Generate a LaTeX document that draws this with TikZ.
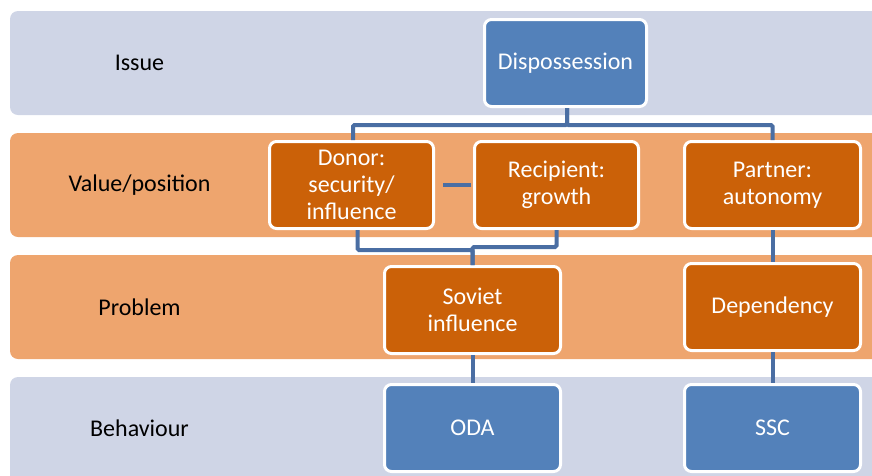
\documentclass[tikz,border=0pt]{standalone}
\usepackage{fontspec}
\setmainfont{Carlito}
\usepackage{tikz}
\usetikzlibrary{calc}
\definecolor{bandblue}{HTML}{CFD5E6}
\definecolor{bandorange}{HTML}{EEA56E}
\definecolor{boxblue}{HTML}{5381BA}
\definecolor{boxorange}{HTML}{CB6108}
\definecolor{linkblue}{HTML}{4A6EA3}

\begin{document}
\begin{tikzpicture}[x=1pt,y=-1pt]
            \tikzstyle{band}=[rounded corners=8pt]
            \tikzstyle{label node}=[font=\fontsize{24}{27}\selectfont,text=black]
            \tikzstyle{main node}=[draw=white,line width=3pt,rounded corners=7pt,align=center,text=white,font=\fontsize{24}{27}\selectfont,minimum height=87pt,inner sep=2pt]
            \tikzstyle{link}=[draw=linkblue,line width=4pt,rounded corners=1.5pt]

            \useasboundingbox (0,0) rectangle (872,475);
            \clip (0,0) rectangle (872,475);

            % level bands
            \fill[band,bandblue] (10,11) rectangle (890,115);
            \fill[band,bandorange] (10,133) rectangle (890,237);
            \fill[band,bandorange] (10,255) rectangle (890,359);
            \fill[band,bandblue] (10,377) rectangle (890,495);

            \node[label node] (Issue) at (139.5,63) {Issue};
            \node[label node] (Value) at (139.5,185) {Value/position};
            \node[label node] (Problem) at (139.5,307) {Problem};
            \node[label node] (Behaviour) at (139.5,428) {Behaviour};

            \node[main node,fill=boxblue,minimum width=162pt] (Disp) at (565.5,63) {Dispossession};
            \node[main node,fill=boxorange,minimum width=164pt] (Donor) at (351.5,185) {Donor:\\security/\\influence};
            \node[main node,fill=boxorange,minimum width=164pt] (Recip) at (556.5,185) {Recipient:\\growth};
            \node[main node,fill=boxorange,minimum width=176pt] (Partner) at (772.5,185) {Partner:\\autonomy};
            \node[main node,fill=boxorange,minimum width=176pt] (Soviet) at (472.5,310) {Soviet\\influence};
            \node[main node,fill=boxorange,minimum width=176pt] (Dep) at (772.5,307) {Dependency};
            \node[main node,fill=boxblue,minimum width=176pt] (ODA) at (472.5,428) {ODA};
            \node[main node,fill=boxblue,minimum width=176pt] (SSC) at (772.5,428) {SSC};

            \draw[link] ([xshift=1.5pt]Disp.south) |- ([xshift=1.5pt,yshift=15pt]Donor.north) -- ([xshift=1.5pt]Donor.north);
            \draw[link] ([xshift=1.5pt]Disp.south) |- ([yshift=15pt]Partner.north) -- (Partner.north);
            \draw[link,shorten <=8pt,shorten >=2pt] (Donor.east) -- (Recip.west);
            \draw[link] ([xshift=6pt]Donor.south) |- ([yshift=15pt]Soviet.north) -- (Soviet.north);
            \draw[link] (Recip.south) |- ([yshift=18pt]Soviet.north) -- (Soviet.north);
            \draw[link] (Partner.south) -- (Dep.north);
            \draw[link] (Soviet.south) -- (ODA.north);
            \draw[link] (Dep.south) -- (SSC.north);
        \end{tikzpicture}
\end{document}
